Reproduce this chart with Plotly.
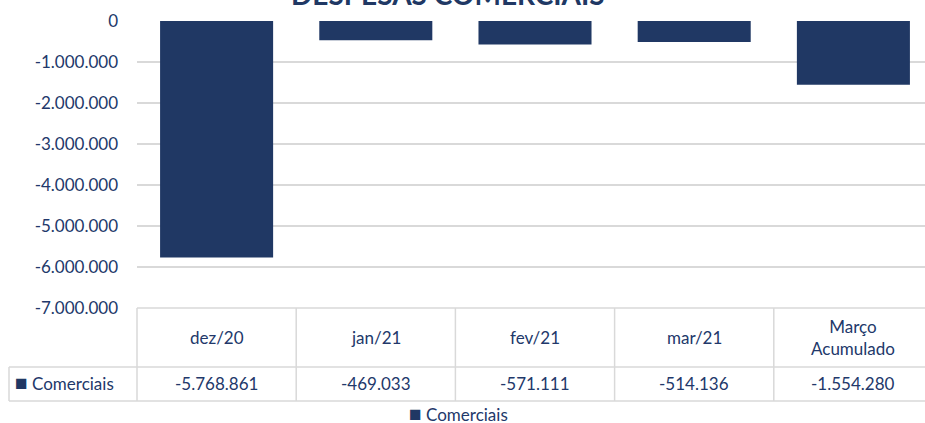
import plotly.graph_objects as go

# ---- data ----
categories = ["dez/20", "jan/21", "fev/21", "mar/21", "Março Acumulado"]
header_labels = ["dez/20", "jan/21", "fev/21", "mar/21", "Março<br>Acumulado"]
comerciais = [-5768861, -469033, -571111, -514136, -1554280]
series_name = "Comerciais"
title_text = "DESPESAS COMERCIAIS"
y_tick_vals = [0, -1000000, -2000000, -3000000, -4000000, -5000000, -6000000, -7000000]


def fmt_br(v):
    s = f"{abs(int(v)):,}".replace(",", ".")
    return ("-" if v < 0 else "") + s


y_tick_text = [fmt_br(v) for v in y_tick_vals]

# ---- styling / layout constants (pixels) ----
W, H = 925, 423
PL, PT, PB_Y = 137, 21, 308          # plot left, plot top, plot bottom (pixel y)
PR = W
ROW1_Y = 367                          # separator between header row and data row
ROW2_Y = 401                          # bottom of table
LABEL_X = 9                           # left edge of series label cell
BAR_COLOR = "#203864"
TEXT_COLOR = "#22386A"
GRID = "#D9D9D9"
FONT = "Lato, 'Open Sans', sans-serif"
FS = 17

plot_h = PB_Y - PT
plot_w = PR - PL
cat_px = 159.2
x_max = len(categories) - 0.5 - (PL + cat_px * len(categories) - PR) / cat_px


def py(p):
    return (PB_Y - p) / plot_h


def px(p):
    return (p - PL) / plot_w


fig = go.Figure()
fig.add_trace(go.Bar(
    x=categories, y=comerciais, name=series_name,
    marker=dict(color=BAR_COLOR, line=dict(width=0)),
    width=0.71, showlegend=False,
))

shapes = []
line = dict(color=GRID, width=1.5)
# horizontal table lines
shapes.append(dict(type="line", xref="paper", yref="paper", x0=0, x1=1, y0=py(PB_Y), y1=py(PB_Y), line=line))
shapes.append(dict(type="line", xref="paper", yref="paper", x0=px(LABEL_X), x1=1, y0=py(ROW1_Y), y1=py(ROW1_Y), line=line))
shapes.append(dict(type="line", xref="paper", yref="paper", x0=px(LABEL_X), x1=1, y0=py(ROW2_Y), y1=py(ROW2_Y), line=line))
# vertical table lines
shapes.append(dict(type="line", xref="paper", yref="paper", x0=px(LABEL_X), x1=px(LABEL_X), y0=py(ROW1_Y), y1=py(ROW2_Y), line=line))
shapes.append(dict(type="line", xref="paper", yref="paper", x0=0, x1=0, y0=py(PB_Y), y1=py(ROW2_Y), line=line))
for i in range(1, len(categories)):
    shapes.append(dict(type="line", xref="x", yref="paper", x0=i - 0.5, x1=i - 0.5,
                       y0=py(PB_Y), y1=py(ROW2_Y), line=line))

annotations = []
hdr_mid = (PB_Y + ROW1_Y) / 2
row_mid = (ROW1_Y + ROW2_Y) / 2 - 1
for cat, lab, val in zip(categories, header_labels, comerciais):
    annotations.append(dict(x=cat, xref="x", y=py(hdr_mid), yref="paper", text=lab,
                            showarrow=False, font=dict(family=FONT, size=FS, color=TEXT_COLOR),
                            xanchor="center", yanchor="middle"))
    annotations.append(dict(x=cat, xref="x", y=py(row_mid), yref="paper", text=fmt_br(val),
                            showarrow=False, font=dict(family=FONT, size=FS, color=TEXT_COLOR),
                            xanchor="center", yanchor="middle"))
square = f"<span style='color:{BAR_COLOR};font-size:21px'>■</span>"
# series label in table
annotations.append(dict(x=px(13), xref="paper", y=py(row_mid - 2), yref="paper",
                        text=f"{square} {series_name}",
                        showarrow=False, font=dict(family=FONT, size=FS, color=TEXT_COLOR),
                        xanchor="left", yanchor="middle"))
# legend (bottom)
annotations.append(dict(x=px(407), xref="paper", y=py(413), yref="paper",
                        text=f"{square} {series_name}",
                        showarrow=False, font=dict(family=FONT, size=FS, color=TEXT_COLOR),
                        xanchor="left", yanchor="middle"))
# title (partly cut off at top, as in the reference)
annotations.append(dict(x=px(447.5), xref="paper", y=py(-6), yref="paper", text=f"<b>{title_text}</b>",
                        showarrow=False, font=dict(family=FONT, size=28, color=BAR_COLOR),
                        xanchor="center", yanchor="middle"))

fig.update_layout(
    width=W, height=H,
    margin=dict(l=PL, r=W - PR, t=PT, b=H - PB_Y, pad=0),
    paper_bgcolor="white", plot_bgcolor="white",
    bargap=0.29,
    xaxis=dict(range=[-0.5, x_max], showticklabels=False, showgrid=False, zeroline=False,
               showline=False, ticks="", fixedrange=True),
    yaxis=dict(range=[-7000000, 0], tickvals=y_tick_vals, ticktext=y_tick_text,
               showgrid=True, gridcolor=GRID, gridwidth=1.5, zeroline=False, showline=False,
               ticks="", ticklabelstandoff=18,
               tickfont=dict(family=FONT, size=FS, color=TEXT_COLOR)),
    shapes=shapes, annotations=annotations, showlegend=False,
)

fig.write_html("out.html", config={"displayModeBar": False},
               post_script="document.body.style.margin='0';document.body.style.overflow='hidden';")
